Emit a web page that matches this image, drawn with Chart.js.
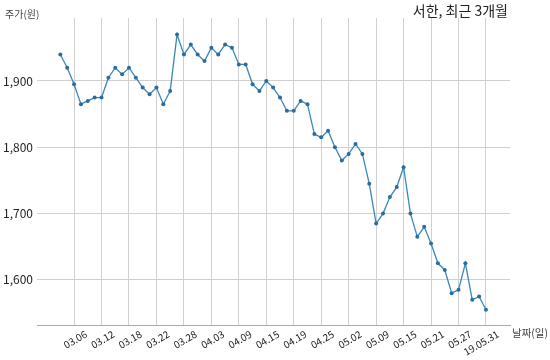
<!DOCTYPE html>
<html>
<head>
<meta charset="utf-8">
<script src="https://cdn.jsdelivr.net/npm/chart.js@4/dist/chart.umd.min.js"></script>
<style>
  body { margin: 0; background: #fff; }
  #wrap { width: 550px; height: 360px; }
</style>
</head>
<body>
<div id="wrap"><canvas id="myChart" width="550" height="360"></canvas></div>
<script>
const chartTitle = '서한, 최근 3개월';
const yTitle = '주가(원)';
const xTitle = '날짜(일)';

// trading days, 2019.03.04 ~ 2019.05.31
const dates = [
  '03.04','03.05','03.06','03.07','03.08','03.11','03.12','03.13','03.14','03.15',
  '03.18','03.19','03.20','03.21','03.22','03.25','03.26','03.27','03.28','03.29',
  '04.01','04.02','04.03','04.04','04.05','04.08','04.09','04.10','04.11','04.12',
  '04.15','04.16','04.17','04.18','04.19','04.22','04.23','04.24','04.25','04.26',
  '04.29','04.30','05.02','05.03','05.07','05.08','05.09','05.10','05.13','05.14',
  '05.15','05.16','05.17','05.20','05.21','05.22','05.23','05.24','05.27','05.28',
  '05.29','05.30','19.05.31'
];

// closing price (원)
const prices = [
  1940,1920,1895,1865,1870,1875,1875,1905,1920,1910,
  1920,1905,1890,1880,1890,1865,1885,1970,1940,1955,
  1940,1930,1950,1940,1955,1950,1925,1925,1895,1885,
  1900,1890,1875,1855,1855,1870,1865,1820,1815,1825,
  1800,1780,1790,1805,1790,1745,1685,1700,1725,1740,
  1770,1700,1665,1680,1655,1625,1615,1580,1585,1625,
  1570,1575,1555
];

const yTicks = [1600, 1700, 1800, 1900];
// every 4th trading day gets a label
const xTickIdx = dates.map((d, i) => i).filter(i => i % 4 === 2);

const fontFam = '"Noto Sans CJK KR", "Noto Sans", sans-serif';

const textPlugin = {
  id: 'texts',
  afterDraw(chart) {
    const c = chart.ctx;
    c.save();
    c.textBaseline = 'middle';
    c.fillStyle = '#222';
    c.font = '14px ' + fontFam;
    c.textAlign = 'right';
    c.fillText(chartTitle, 508, 11);
    c.fillStyle = '#444';
    c.font = '10px ' + fontFam;
    c.textAlign = 'left';
    c.fillText(yTitle, 5, 14);
    c.font = '10.5px ' + fontFam;
    c.fillText(xTitle, 512, 333);
    c.restore();
  }
};

const ctx = document.getElementById('myChart');
new Chart(ctx, {
  type: 'line',
  data: {
    datasets: [{
      data: prices.map((p, i) => ({ x: i, y: p })),
      borderColor: '#3a87b8',
      borderWidth: 1.3,
      pointRadius: 2,
      pointBackgroundColor: '#2c6c9c',
      pointBorderWidth: 0,
      tension: 0
    }]
  },
  options: {
    responsive: false,
    animation: false,
    layout: { padding: { top: 18, right: 40, left: 0, bottom: 0 } },
    plugins: { legend: { display: false }, tooltip: { enabled: false } },
    scales: {
      x: {
        type: 'linear',
        min: -3.4,
        max: 65.5,
        afterBuildTicks: (s) => { s.ticks = xTickIdx.map(v => ({ value: v })); },
        afterFit: (s) => { s.height = 35; },
        grid: { color: '#d0d0d0', drawTicks: false },
        border: { color: '#aaaaaa' },
        ticks: {
          autoSkip: false,
          minRotation: 30,
          maxRotation: 30,
          labelOffset: 12,
          padding: 3,
          color: '#222',
          font: { family: fontFam, size: 10 },
          callback: (v) => dates[v]
        }
      },
      y: {
        min: 1532,
        max: 1995,
        afterBuildTicks: (s) => { s.ticks = yTicks.map(v => ({ value: v })); },
        afterFit: (s) => { s.width = 37; },
        grid: { color: '#d0d0d0', drawTicks: false },
        border: { display: false },
        ticks: {
          padding: 4,
          color: '#222',
          font: { family: fontFam, size: 12 },
          callback: (v) => v.toLocaleString('en-US')
        }
      }
    }
  },
  plugins: [textPlugin]
});
</script>
</body>
</html>
